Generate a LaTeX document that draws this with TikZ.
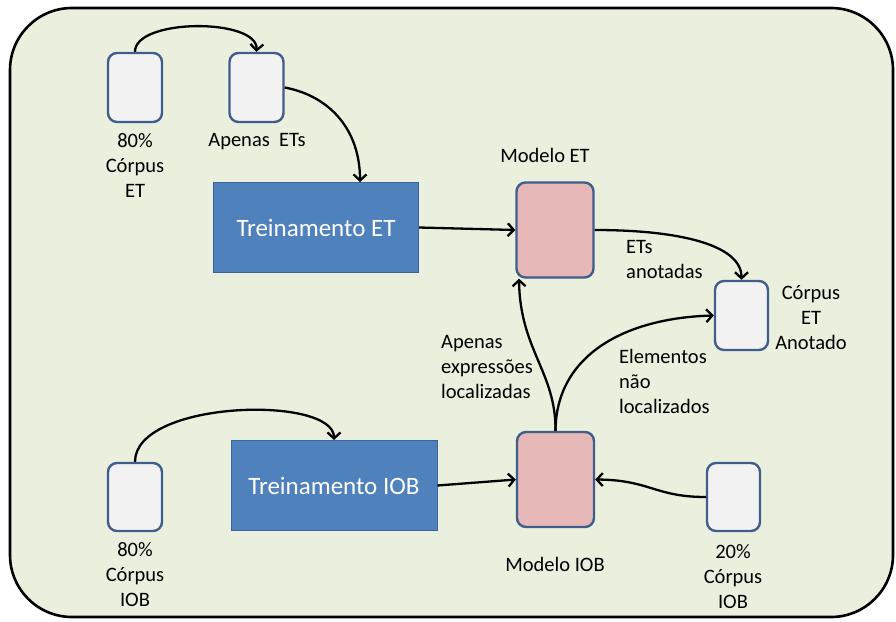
\documentclass[tikz,border=0pt]{standalone}
\usepackage{fontspec}
\setmainfont{Carlito}
\usetikzlibrary{arrows.meta}
\definecolor{bgpanel}{RGB}{235,239,222}
\definecolor{docfill}{RGB}{242,242,242}
\definecolor{docline}{RGB}{64,94,140}
\definecolor{trainfill}{RGB}{79,129,189}
\definecolor{trainline}{RGB}{60,100,160}
\definecolor{modelfill}{RGB}{230,185,184}
\tikzset{
  x=1pt, y=-1pt,
  docbox/.style={draw=docline, line width=2.4pt, fill=docfill, rounded corners=9pt,
    minimum width=54pt, minimum height=69pt, inner sep=0pt},
  modelbox/.style={docbox, fill=modelfill, minimum width=77pt, minimum height=95pt},
  trainbox/.style={draw=trainline, line width=1pt, fill=trainfill, text=white,
    minimum width=205pt, minimum height=90pt, inner sep=0pt,
    font=\fontsize{25}{30}\selectfont},
  lbl/.style={inner sep=0pt, align=center, font=\fontsize{20.5}{25}\selectfont},
  lbll/.style={lbl, align=left, anchor=west},
  arr/.style={line width=2.3pt, -{Straight Barb[length=6pt,width=13pt]}},
}
\begin{document}
\begin{tikzpicture}
\useasboundingbox (0,0) rectangle (896,621);
% panel
\draw[line width=2.6pt, fill=bgpanel, rounded corners=62pt] (10,8) rectangle (893,617);

% boxes
\node[docbox] (cet) at (135,87.5) {};
\node[docbox] (aet) at (256.5,87.5) {};
\node[trainbox] (tet) at (316,227.5) {Treinamento ET};
\node[modelbox] (met) at (555,230) {};
\node[docbox, minimum width=53pt] (ann) at (741.5,315.5) {};
\node[trainbox, minimum width=206pt] (tiob) at (334,485.5) {Treinamento IOB};
\node[modelbox] (miob) at (555.5,479.5) {};
\node[docbox, minimum height=68pt] (ciob) at (135,497) {};
\node[docbox, minimum width=53pt, minimum height=68pt] (tiob20) at (733.5,497) {};

% labels
\node[lbl] (lcet) at (135,165) {80\%\\Córpus\\ET};
\node[lbl] (laet) at (257,142) {Apenas\ \ ETs};
\node[lbl] (lmet) at (545,155) {Modelo ET};
\node[lbll] (lanot) at (626,259.5) {ETs\\anotadas};
\node[lbl] (lann) at (811,318) {Córpus\\ET\\Anotado};
\node[lbll] (lexp) at (441,366.5) {Apenas\\expressões\\localizadas};
\node[lbll] (lelem) at (619,381.5) {Elementos\\não\\localizados};
\node[lbl] (lmiob) at (555,564) {Modelo IOB};
\node[lbl] (lciob) at (135,575) {80\%\\Córpus\\IOB};
\node[lbl] (lc20) at (733,576.5) {20\%\\Córpus\\IOB};

% connectors
\draw[arr] (cet.north) .. controls (135,18) and (258,18) .. (aet.north);
\draw[arr] (aet.east) .. controls (330,96) and (360,130) .. ([xshift=44pt]tet.north);
\draw[arr] (tet.east) -- (met.west);
\draw[arr] (met.east) .. controls (680,230) and (741.5,245) .. (ann.north);
\draw[arr] (miob.north) .. controls (556,372) and (520,350) .. ([xshift=-36pt]met.south);
\draw[arr] (miob.north) .. controls (556,355) and (625,318) .. (ann.west);
\draw[arr] (ciob.north) .. controls (135,400) and (334,395) .. (tiob.north);
\draw[arr] (tiob.east) -- (miob.west);
\draw[arr] (tiob20.west) .. controls (655,497) and (650,480) .. (miob.east);
\end{tikzpicture}
\end{document}
